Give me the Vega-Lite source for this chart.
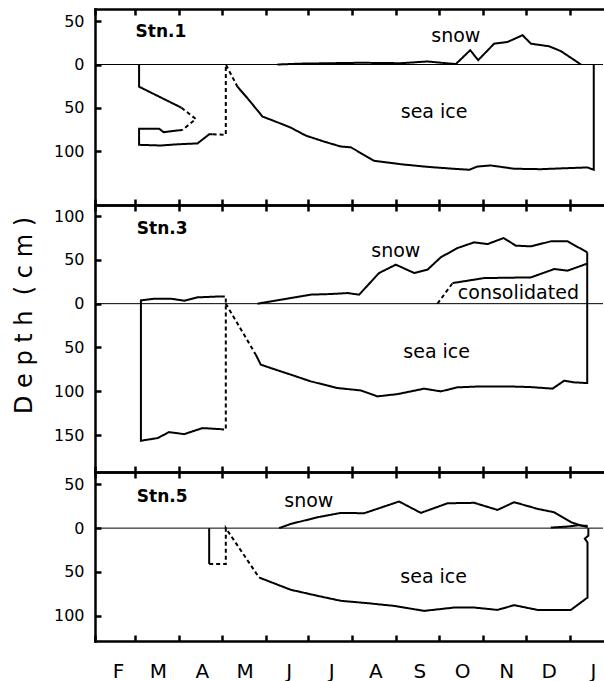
{
  "$schema": "https://vega.github.io/schema/vega-lite/v6.json",
  "background": "white",
  "padding": {"left": 12, "top": 7, "right": 0, "bottom": 0},
  "autosize": {"type": "pad"},
  "spacing": 0,
  "bounds": "flush",
  "resolve": {"scale": {"x": "independent", "y": "independent"}},
  "config": {
    "view": {"stroke": null},
    "font": "DejaVu Sans",
    "axis": {
      "domainColor": "black", "domainWidth": 2.5, "domainCap": "square",
      "tickColor": "black", "tickWidth": 2.5, "tickSize": -6,
      "labelColor": "black", "labelFont": "DejaVu Sans",
      "grid": false, "titleColor": "black", "titleFont": "DejaVu Sans", "titleFontWeight": "normal",
      "labelOverlap": false, "labelBound": false, "labelFlush": false
    },
    "axisY": {"labelFontSize": 16, "labelPadding": 17},
    "axisX": {"labelFontSize": 20, "labelPadding": 26, "labelOffset": 23}
  },
  "datasets": {
    "p1": [
      {"s":"a","t":"solid","i":0,"d":31.0,"v":0},{"s":"a","t":"solid","i":1,"d":31.0,"v":-25.6},{"s":"a","t":"solid","i":2,"d":60.8,"v":-49.8},
      {"s":"b","t":"dashed","i":0,"d":60.8,"v":-49.8},{"s":"b","t":"dashed","i":1,"d":70.9,"v":-62.8},{"s":"b","t":"dashed","i":2,"d":61.5,"v":-75.4},
      {"s":"c","t":"solid","i":0,"d":61.5,"v":-75.4},{"s":"c","t":"solid","i":1,"d":48.2,"v":-78},{"s":"c","t":"solid","i":2,"d":45.1,"v":-74},{"s":"c","t":"solid","i":3,"d":31.0,"v":-74},{"s":"c","t":"solid","i":4,"d":31.0,"v":-92.6},{"s":"c","t":"solid","i":5,"d":46.3,"v":-93.4},{"s":"c","t":"solid","i":6,"d":58.0,"v":-92},{"s":"c","t":"solid","i":7,"d":72.1,"v":-91},{"s":"c","t":"solid","i":8,"d":80.3,"v":-80.5},{"s":"c","t":"solid","i":9,"d":82.7,"v":-80.5},
      {"s":"d","t":"dashed","i":0,"d":82.7,"v":-80.5},{"s":"d","t":"dashed","i":1,"d":92.0,"v":-81},{"s":"d","t":"dashed","i":2,"d":92.0,"v":0},{"s":"d","t":"dashed","i":3,"d":100.2,"v":-25.6},
      {"s":"e","t":"solid","i":0,"d":100.2,"v":-25.6},{"s":"e","t":"solid","i":1,"d":107.3,"v":-39},{"s":"e","t":"solid","i":2,"d":117.8,"v":-60},{"s":"e","t":"solid","i":3,"d":128.4,"v":-66.7},{"s":"e","t":"solid","i":4,"d":137.7,"v":-72.8},{"s":"e","t":"solid","i":5,"d":148.3,"v":-82},{"s":"e","t":"solid","i":6,"d":161.2,"v":-88.9},{"s":"e","t":"solid","i":7,"d":172.9,"v":-94.6},{"s":"e","t":"solid","i":8,"d":180.0,"v":-95.5},{"s":"e","t":"solid","i":9,"d":196.3,"v":-111},{"s":"e","t":"solid","i":10,"d":215.1,"v":-115},{"s":"e","t":"solid","i":11,"d":233.9,"v":-118},{"s":"e","t":"solid","i":12,"d":250.3,"v":-120},{"s":"e","t":"solid","i":13,"d":263.2,"v":-121.4},{"s":"e","t":"solid","i":14,"d":269.1,"v":-117.6},{"s":"e","t":"solid","i":15,"d":278.4,"v":-116.4},{"s":"e","t":"solid","i":16,"d":294.8,"v":-120.2},{"s":"e","t":"solid","i":17,"d":313.6,"v":-120.7},{"s":"e","t":"solid","i":18,"d":332.4,"v":-119.5},{"s":"e","t":"solid","i":19,"d":346.4,"v":-118.7},{"s":"e","t":"solid","i":20,"d":350.8,"v":-121.4},{"s":"e","t":"solid","i":21,"d":350.8,"v":0},
      {"s":"f","t":"solid","i":0,"d":128.4,"v":0},{"s":"f","t":"solid","i":1,"d":144.8,"v":1},{"s":"f","t":"solid","i":2,"d":165.9,"v":1.5},{"s":"f","t":"solid","i":3,"d":187,"v":2},{"s":"f","t":"solid","i":4,"d":215.1,"v":1.5},{"s":"f","t":"solid","i":5,"d":233.9,"v":3.5},{"s":"f","t":"solid","i":6,"d":246.8,"v":1.5},{"s":"f","t":"solid","i":7,"d":253.8,"v":0.5},{"s":"f","t":"solid","i":8,"d":263.9,"v":16.5},{"s":"f","t":"solid","i":9,"d":269.5,"v":5},{"s":"f","t":"solid","i":10,"d":280.7,"v":24},{"s":"f","t":"solid","i":11,"d":290.2,"v":26},{"s":"f","t":"solid","i":12,"d":300.7,"v":33.8},{"s":"f","t":"solid","i":13,"d":306.6,"v":24},{"s":"f","t":"solid","i":14,"d":319.4,"v":21},{"s":"f","t":"solid","i":15,"d":327.7,"v":15.4},{"s":"f","t":"solid","i":16,"d":341.8,"v":0}
    ],
    "p3": [
      {"s":"a","t":"solid","i":0,"d":88.5,"v":8.3},{"s":"a","t":"solid","i":1,"d":72.1,"v":7.2},{"s":"a","t":"solid","i":2,"d":62.7,"v":3.4},{"s":"a","t":"solid","i":3,"d":53.3,"v":5.7},{"s":"a","t":"solid","i":4,"d":41.6,"v":5.7},{"s":"a","t":"solid","i":5,"d":32.3,"v":3.8},{"s":"a","t":"solid","i":6,"d":32.3,"v":-156.4},{"s":"a","t":"solid","i":7,"d":44.0,"v":-153.4},{"s":"a","t":"solid","i":8,"d":52.1,"v":-146.6},{"s":"a","t":"solid","i":9,"d":62.7,"v":-148.9},{"s":"a","t":"solid","i":10,"d":75.6,"v":-142},{"s":"a","t":"solid","i":11,"d":88.5,"v":-143.2},
      {"s":"b","t":"dashed","i":0,"d":88.5,"v":8.3},{"s":"b","t":"dashed","i":1,"d":92.0,"v":8.3},{"s":"b","t":"dashed","i":2,"d":92.0,"v":-143.8},{"s":"b","t":"dashed","i":3,"d":88.5,"v":-143.2},
      {"s":"c","t":"dashed","i":0,"d":92.0,"v":0},{"s":"c","t":"dashed","i":1,"d":113.1,"v":-58.2},
      {"s":"d","t":"solid","i":0,"d":113.1,"v":-58.2},{"s":"d","t":"solid","i":1,"d":116.6,"v":-69.6},{"s":"d","t":"solid","i":2,"d":123.7,"v":-73.5},{"s":"d","t":"solid","i":3,"d":137.7,"v":-81},{"s":"d","t":"solid","i":4,"d":151.8,"v":-88.7},{"s":"d","t":"solid","i":5,"d":170.6,"v":-96.3},{"s":"d","t":"solid","i":6,"d":186.9,"v":-99},{"s":"d","t":"solid","i":7,"d":198.7,"v":-105.8},{"s":"d","t":"solid","i":8,"d":212.8,"v":-103.2},{"s":"d","t":"solid","i":9,"d":231.5,"v":-97},{"s":"d","t":"solid","i":10,"d":243.2,"v":-100.1},{"s":"d","t":"solid","i":11,"d":255,"v":-95.5},{"s":"d","t":"solid","i":12,"d":271.4,"v":-94.4},{"s":"d","t":"solid","i":13,"d":290.2,"v":-94.4},{"s":"d","t":"solid","i":14,"d":306.6,"v":-95.2},{"s":"d","t":"solid","i":15,"d":321.8,"v":-97},{"s":"d","t":"solid","i":16,"d":330,"v":-87.9},{"s":"d","t":"solid","i":17,"d":337,"v":-89.8},{"s":"d","t":"solid","i":18,"d":346.2,"v":-90.6},{"s":"d","t":"solid","i":19,"d":346.2,"v":58.6},
      {"s":"e","t":"solid","i":0,"d":114.3,"v":0},{"s":"e","t":"solid","i":1,"d":123.7,"v":2.6},{"s":"e","t":"solid","i":2,"d":137.7,"v":6.4},{"s":"e","t":"solid","i":3,"d":151.8,"v":10.3},{"s":"e","t":"solid","i":4,"d":165.9,"v":11},{"s":"e","t":"solid","i":5,"d":177.6,"v":12.1},{"s":"e","t":"solid","i":6,"d":185.8,"v":10.3},{"s":"e","t":"solid","i":7,"d":199.8,"v":35},{"s":"e","t":"solid","i":8,"d":211.6,"v":44.5},{"s":"e","t":"solid","i":9,"d":224.5,"v":35},{"s":"e","t":"solid","i":10,"d":233.9,"v":38.8},{"s":"e","t":"solid","i":11,"d":243.2,"v":52.9},{"s":"e","t":"solid","i":12,"d":255,"v":63.5},{"s":"e","t":"solid","i":13,"d":266.7,"v":70},{"s":"e","t":"solid","i":14,"d":276.1,"v":68},{"s":"e","t":"solid","i":15,"d":287.4,"v":74.9},{"s":"e","t":"solid","i":16,"d":296,"v":66.2},{"s":"e","t":"solid","i":17,"d":306.6,"v":65.4},{"s":"e","t":"solid","i":18,"d":320.6,"v":71.1},{"s":"e","t":"solid","i":19,"d":332.4,"v":71.1},{"s":"e","t":"solid","i":20,"d":346.2,"v":58.6},
      {"s":"f","t":"dashed","i":0,"d":240.9,"v":0},{"s":"f","t":"dashed","i":1,"d":251.5,"v":23.5},
      {"s":"g","t":"solid","i":0,"d":251.5,"v":23.5},{"s":"g","t":"solid","i":1,"d":273.7,"v":29.2},{"s":"g","t":"solid","i":2,"d":306.6,"v":30},{"s":"g","t":"solid","i":3,"d":323,"v":39.5},{"s":"g","t":"solid","i":4,"d":332.4,"v":37.7},{"s":"g","t":"solid","i":5,"d":346.2,"v":45.7}
    ],
    "p5": [
      {"s":"a","t":"solid","i":0,"d":80.3,"v":0},{"s":"a","t":"solid","i":1,"d":80.3,"v":-41},
      {"s":"b","t":"dashed","i":0,"d":80.3,"v":-41},{"s":"b","t":"dashed","i":1,"d":92.0,"v":-41},{"s":"b","t":"dashed","i":2,"d":92.0,"v":0},{"s":"b","t":"dashed","i":3,"d":115.4,"v":-56.4},
      {"s":"c","t":"solid","i":0,"d":115.4,"v":-56.4},{"s":"c","t":"solid","i":1,"d":137.7,"v":-70.4},{"s":"c","t":"solid","i":2,"d":156.5,"v":-77.3},{"s":"c","t":"solid","i":3,"d":172.9,"v":-83},{"s":"c","t":"solid","i":4,"d":191.7,"v":-85.7},{"s":"c","t":"solid","i":5,"d":210.4,"v":-88.8},{"s":"c","t":"solid","i":6,"d":231.5,"v":-94.5},{"s":"c","t":"solid","i":7,"d":252.6,"v":-90.7},{"s":"c","t":"solid","i":8,"d":266.7,"v":-90.7},{"s":"c","t":"solid","i":9,"d":283.1,"v":-93.4},{"s":"c","t":"solid","i":10,"d":294.8,"v":-88},{"s":"c","t":"solid","i":11,"d":311.3,"v":-93.4},{"s":"c","t":"solid","i":12,"d":334.7,"v":-93.4},{"s":"c","t":"solid","i":13,"d":346.4,"v":-79.3},{"s":"c","t":"solid","i":14,"d":346.4,"v":-16.3},{"s":"c","t":"solid","i":15,"d":344.5,"v":-12},{"s":"c","t":"solid","i":16,"d":347,"v":-8.6},{"s":"c","t":"solid","i":17,"d":347,"v":0},
      {"s":"d","t":"solid","i":0,"d":129.5,"v":0},{"s":"d","t":"solid","i":1,"d":137.7,"v":4.8},{"s":"d","t":"solid","i":2,"d":156.5,"v":12.4},{"s":"d","t":"solid","i":3,"d":172.9,"v":17.4},{"s":"d","t":"solid","i":4,"d":189.3,"v":17},{"s":"d","t":"solid","i":5,"d":213.9,"v":30.4},{"s":"d","t":"solid","i":6,"d":229.2,"v":17.4},{"s":"d","t":"solid","i":7,"d":248,"v":28.4},{"s":"d","t":"solid","i":8,"d":266.7,"v":28.9},{"s":"d","t":"solid","i":9,"d":283.1,"v":20.8},{"s":"d","t":"solid","i":10,"d":294.8,"v":29.6},{"s":"d","t":"solid","i":11,"d":311.3,"v":22},{"s":"d","t":"solid","i":12,"d":323,"v":18.1},{"s":"d","t":"solid","i":13,"d":335,"v":6.6},{"s":"d","t":"solid","i":14,"d":342,"v":2.9},{"s":"d","t":"solid","i":15,"d":346.5,"v":1},
      {"s":"e","t":"solid","i":0,"d":320.6,"v":0.6},{"s":"e","t":"solid","i":1,"d":331.6,"v":1.7},{"s":"e","t":"solid","i":2,"d":340,"v":3.3},{"s":"e","t":"solid","i":3,"d":346.5,"v":2.5}
    ]
  },
  "vconcat": [
    {
      "width": 508, "height": 196,
      "resolve": {"axis": {"x": "independent"}},
      "layer": [
        {
          "data": {"values": [{}]},
          "mark": {"type": "rule", "color": "black", "strokeWidth": 1},
          "encoding": {"y": {"datum": 0, "type": "quantitative", "scale": {"domain": [-162, 64], "nice": false, "zero": false}, "axis": {"values": [50, 0, -50, -100], "labelExpr": "abs(datum.value)", "title": null}}}
        },
        {
          "data": {"name": "p1"},
          "mark": {"type": "line", "color": "black", "strokeWidth": 2},
          "encoding": {
            "x": {"field": "d", "type": "quantitative", "scale": {"domain": [0, 357.3], "nice": false, "zero": false}, "axis": {"orient": "bottom", "values": [0,28,59,89,120,150,181,212,242,273,303,334], "labels": false, "title": null}},
            "y": {"field": "v", "type": "quantitative", "axis": {"values": [50, 0, -50, -100], "labelExpr": "abs(datum.value)", "title": null}},
            "detail": {"field": "s"},
            "order": {"field": "i"},
            "strokeDash": {"field": "t", "type": "nominal", "scale": {"domain": ["solid", "dashed"], "range": [[1, 0], [4, 3]]}, "legend": null}
          }
        },
        {
          "data": {"values": [{"d": 46.4, "v": 37.5, "label": "Stn.1"}]},
          "mark": {"type": "text", "color": "black", "font": "DejaVu Sans", "fontSize": 17, "fontWeight": "bold", "align": "center", "baseline": "middle"},
          "encoding": {
            "x": {"field": "d", "type": "quantitative", "axis": {"orient": "top", "values": [0,28,59,89,120,150,181,212,242,273,303,334], "labels": false, "title": null}},
            "y": {"field": "v", "type": "quantitative", "axis": {"values": [50, 0, -50, -100], "labelExpr": "abs(datum.value)", "title": null}},
            "text": {"field": "label"}
          }
        },
        {
          "data": {"values": [{"d": 253.8, "v": 32.3, "label": "snow"}, {"d": 238.5, "v": -54.8, "label": "sea ice"}]},
          "mark": {"type": "text", "color": "black", "font": "DejaVu Sans", "fontSize": 19, "align": "center", "baseline": "middle"},
          "encoding": {
            "x": {"field": "d", "type": "quantitative", "axis": null},
            "y": {"field": "v", "type": "quantitative", "axis": {"values": [50, 0, -50, -100], "labelExpr": "abs(datum.value)", "title": null}},
            "text": {"field": "label"}
          }
        }
      ]
    },
    {
      "width": 508, "height": 267,
      "resolve": {"axis": {"x": "independent"}},
      "layer": [
        {
          "data": {"values": [{}]},
          "mark": {"type": "rule", "color": "black", "strokeWidth": 1},
          "encoding": {"y": {"datum": 0, "type": "quantitative", "scale": {"domain": [-192.1, 112.6], "nice": false, "zero": false}, "axis": {"values": [100, 50, 0, -50, -100, -150], "labelExpr": "abs(datum.value)", "title": "D e p t h \u00a0( c m )", "titleFontSize": 24, "titleX": -71, "titleY": 110, "titleAngle": 270, "titleAlign": "center", "titleBaseline": "middle"}}}
        },
        {
          "data": {"name": "p3"},
          "mark": {"type": "line", "color": "black", "strokeWidth": 2},
          "encoding": {
            "x": {"field": "d", "type": "quantitative", "scale": {"domain": [0, 357.3], "nice": false, "zero": false}, "axis": {"orient": "bottom", "values": [0,28,59,89,120,150,181,212,242,273,303,334], "labels": false, "title": null}},
            "y": {"field": "v", "type": "quantitative", "axis": {"values": [100, 50, 0, -50, -100, -150], "labelExpr": "abs(datum.value)", "title": "D e p t h \u00a0( c m )", "titleFontSize": 24, "titleX": -71, "titleY": 110, "titleAngle": 270, "titleAlign": "center", "titleBaseline": "middle"}},
            "detail": {"field": "s"},
            "order": {"field": "i"},
            "strokeDash": {"field": "t", "type": "nominal", "scale": {"domain": ["solid", "dashed"], "range": [[1, 0], [4, 3]]}, "legend": null}
          }
        },
        {
          "data": {"values": [{"d": 47.3, "v": 85.7, "label": "Stn.3"}]},
          "mark": {"type": "text", "color": "black", "font": "DejaVu Sans", "fontSize": 17, "fontWeight": "bold", "align": "center", "baseline": "middle"},
          "encoding": {
            "x": {"field": "d", "type": "quantitative", "axis": {"orient": "top", "values": [0,28,59,89,120,150,181,212,242,273,303,334], "labels": false, "title": null}},
            "y": {"field": "v", "type": "quantitative", "axis": {"values": [100, 50, 0, -50, -100, -150], "labelExpr": "abs(datum.value)", "title": "D e p t h \u00a0( c m )", "titleFontSize": 24, "titleX": -71, "titleY": 110, "titleAngle": 270, "titleAlign": "center", "titleBaseline": "middle"}},
            "text": {"field": "label"}
          }
        },
        {
          "data": {"values": [{"d": 211.6, "v": 59.9, "label": "snow"}, {"d": 297.8, "v": 11.8, "label": "consolidated"}, {"d": 240.3, "v": -54.6, "label": "sea ice"}]},
          "mark": {"type": "text", "color": "black", "font": "DejaVu Sans", "fontSize": 19, "align": "center", "baseline": "middle"},
          "encoding": {
            "x": {"field": "d", "type": "quantitative", "axis": null},
            "y": {"field": "v", "type": "quantitative", "axis": {"values": [100, 50, 0, -50, -100, -150], "labelExpr": "abs(datum.value)", "title": "D e p t h \u00a0( c m )", "titleFontSize": 24, "titleX": -71, "titleY": 110, "titleAngle": 270, "titleAlign": "center", "titleBaseline": "middle"}},
            "text": {"field": "label"}
          }
        }
      ]
    },
    {
      "width": 508, "height": 169,
      "resolve": {"axis": {"x": "independent"}},
      "layer": [
        {
          "data": {"values": [{}]},
          "mark": {"type": "rule", "color": "black", "strokeWidth": 1},
          "encoding": {"y": {"datum": 0, "type": "quantitative", "scale": {"domain": [-128.9, 64.1], "nice": false, "zero": false}, "axis": {"values": [50, 0, -50, -100], "labelExpr": "abs(datum.value)", "title": null}}}
        },
        {
          "data": {"name": "p5"},
          "mark": {"type": "line", "color": "black", "strokeWidth": 2},
          "encoding": {
            "x": {"field": "d", "type": "quantitative", "scale": {"domain": [0, 357.3], "nice": false, "zero": false}, "axis": {"orient": "bottom", "values": [0,28,59,89,120,150,181,212,242,273,303,334], "labelExpr": "['F','M','A','M','J','J','A','S','O','N','D','J'][indexof([0,28,59,89,120,150,181,212,242,273,303,334], datum.value)]", "title": null}},
            "y": {"field": "v", "type": "quantitative", "axis": {"values": [50, 0, -50, -100], "labelExpr": "abs(datum.value)", "title": null}},
            "detail": {"field": "s"},
            "order": {"field": "i"},
            "strokeDash": {"field": "t", "type": "nominal", "scale": {"domain": ["solid", "dashed"], "range": [[1, 0], [4, 3]]}, "legend": null}
          }
        },
        {
          "data": {"values": [{"d": 47.3, "v": 36, "label": "Stn.5"}]},
          "mark": {"type": "text", "color": "black", "font": "DejaVu Sans", "fontSize": 17, "fontWeight": "bold", "align": "center", "baseline": "middle"},
          "encoding": {
            "x": {"field": "d", "type": "quantitative", "axis": {"orient": "top", "values": [0,28,59,89,120,150,181,212,242,273,303,334], "labels": false, "title": null}},
            "y": {"field": "v", "type": "quantitative", "axis": {"values": [50, 0, -50, -100], "labelExpr": "abs(datum.value)", "title": null}},
            "text": {"field": "label"}
          }
        },
        {
          "data": {"values": [{"d": 150.4, "v": 31.5, "label": "snow"}, {"d": 238.2, "v": -55.6, "label": "sea ice"}]},
          "mark": {"type": "text", "color": "black", "font": "DejaVu Sans", "fontSize": 19, "align": "center", "baseline": "middle"},
          "encoding": {
            "x": {"field": "d", "type": "quantitative", "axis": null},
            "y": {"field": "v", "type": "quantitative", "axis": {"values": [50, 0, -50, -100], "labelExpr": "abs(datum.value)", "title": null}},
            "text": {"field": "label"}
          }
        }
      ]
    }
  ]
}
